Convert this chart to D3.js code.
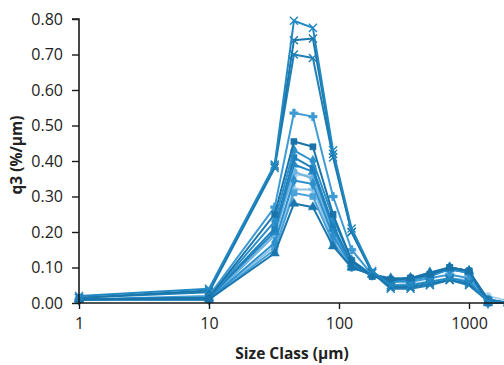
<!DOCTYPE html>
<html>
<head>
<meta charset="utf-8">
<script src="https://cdn.jsdelivr.net/npm/d3@7"></script>
<style>
  html, body { margin: 0; padding: 0; background: #fff; }
  svg { display: block; }
  text { font-family: "Open Sans", Lato, sans-serif; fill: #222; }
</style>
</head>
<body>
<svg id="chart" width="504" height="365"></svg>
<script>
// Size classes (µm)
const sizeClasses = [1, 10, 32, 45, 63, 90, 125, 180, 250, 355, 500, 710, 1000, 1400, 2000];

// q3 density (%/µm) per sample
const sampleA1 = [0.020, 0.040, 0.390, 0.795, 0.775, 0.430, 0.210, 0.090, 0.050, 0.050, 0.060, 0.070, 0.060, 0.005, 0.000];
const sampleA2 = [0.015, 0.035, 0.385, 0.740, 0.745, 0.420, 0.200, 0.085, 0.045, 0.045, 0.055, 0.065, 0.055, 0.005, 0.000];
const sampleA3 = [0.015, 0.030, 0.380, 0.700, 0.690, 0.410, 0.200, 0.085, 0.040, 0.040, 0.050, 0.065, 0.050, 0.005, 0.000];
const sampleA4 = [0.010, 0.020, 0.270, 0.535, 0.525, 0.300, 0.150, 0.080, 0.060, 0.060, 0.070, 0.080, 0.070, 0.010, 0.000];
const sampleB1 = [0.010, 0.015, 0.250, 0.455, 0.440, 0.250, 0.120, 0.075, 0.065, 0.070, 0.080, 0.100, 0.090, 0.010, 0.000];
const sampleB2 = [0.010, 0.015, 0.230, 0.430, 0.400, 0.240, 0.120, 0.080, 0.060, 0.065, 0.075, 0.095, 0.085, 0.005, 0.000];
const sampleB3 = [0.010, 0.015, 0.210, 0.410, 0.380, 0.220, 0.110, 0.075, 0.065, 0.070, 0.080, 0.100, 0.090, 0.000, 0.000];
const sampleB4 = [0.010, 0.015, 0.200, 0.390, 0.370, 0.210, 0.110, 0.080, 0.060, 0.065, 0.080, 0.095, 0.085, 0.005, 0.000];
const sampleB5 = [0.010, 0.010, 0.190, 0.370, 0.350, 0.200, 0.110, 0.080, 0.065, 0.070, 0.080, 0.095, 0.090, 0.010, 0.000];
const sampleB6 = [0.010, 0.010, 0.170, 0.345, 0.335, 0.190, 0.105, 0.080, 0.065, 0.070, 0.085, 0.100, 0.090, 0.000, 0.000];
const sampleB7 = [0.010, 0.010, 0.160, 0.320, 0.320, 0.180, 0.100, 0.080, 0.065, 0.070, 0.080, 0.095, 0.085, 0.010, 0.000];
const sampleB8 = [0.010, 0.010, 0.150, 0.310, 0.300, 0.170, 0.100, 0.080, 0.065, 0.070, 0.080, 0.095, 0.090, 0.005, 0.000];
const sampleB9 = [0.010, 0.010, 0.140, 0.280, 0.270, 0.160, 0.100, 0.080, 0.070, 0.070, 0.085, 0.100, 0.090, 0.000, 0.000];
const sampleB10 = [0.010, 0.010, 0.150, 0.360, 0.360, 0.210, 0.120, 0.080, 0.050, 0.055, 0.060, 0.070, 0.065, 0.020, 0.005];

const xTickValues = [1, 10, 100, 1000];
const yTickValues = [0, 0.1, 0.2, 0.3, 0.4, 0.5, 0.6, 0.7, 0.8];

// Series drawn light first, dark last
const series = [
  { name: "B10", values: sampleB10, color: "#a8d2ee", symbol: d3.symbolCircle },
  { name: "B7",  values: sampleB7,  color: "#8cc3e8", symbol: d3.symbolCross },
  { name: "B5",  values: sampleB5,  color: "#6fb3e0", symbol: d3.symbolCircle },
  { name: "A4",  values: sampleA4,  color: "#3d9ad4", symbol: d3.symbolCross },
  { name: "B8",  values: sampleB8,  color: "#4ba2d8", symbol: d3.symbolSquare },
  { name: "B6",  values: sampleB6,  color: "#2d90cc", symbol: d3.symbolDiamond },
  { name: "B4",  values: sampleB4,  color: "#2587c4", symbol: d3.symbolTriangle },
  { name: "B3",  values: sampleB3,  color: "#1f80bc", symbol: d3.symbolSquare },
  { name: "B2",  values: sampleB2,  color: "#2a8fca", symbol: d3.symbolDiamond },
  { name: "B9",  values: sampleB9,  color: "#1b76ae", symbol: d3.symbolTriangle },
  { name: "B1",  values: sampleB1,  color: "#1a74aa", symbol: d3.symbolSquare },
  { name: "A3",  values: sampleA3,  color: "#1f7fb6", symbol: d3.symbolX },
  { name: "A2",  values: sampleA2,  color: "#1a76ab", symbol: d3.symbolX },
  { name: "A1",  values: sampleA1,  color: "#2288c2", symbol: d3.symbolX }
];

const svg = d3.select("#chart");
const plotLeft = 79, plotTop = 19, plotBottom = 303;

const x = d3.scaleLog().domain([1, 2000]).range([plotLeft, plotLeft + 130 * Math.log10(2000)]);
const y = d3.scaleLinear().domain([0, 0.8]).range([plotBottom, plotTop]);

// Lines and markers
const line = d3.line()
  .x((d, i) => x(sizeClasses[i]))
  .y(d => y(d));

const plot = svg.append("g");
series.forEach(s => {
  plot.append("path")
    .datum(s.values)
    .attr("fill", "none")
    .attr("stroke", s.color)
    .attr("stroke-width", 2)
    .attr("stroke-linejoin", "round")
    .attr("d", line);
  const isStroke = s.symbol === d3.symbolX;
  plot.append("g").selectAll("path")
    .data(s.values)
    .join("path")
    .attr("transform", (d, i) => `translate(${x(sizeClasses[i])},${y(d)})`)
    .attr("d", d3.symbol().type(s.symbol).size(isStroke ? 44 : 38))
    .attr("fill", isStroke ? "none" : s.color)
    .attr("stroke", s.color)
    .attr("stroke-width", isStroke ? 1.4 : 0.5);
});

// Axes
const yAxis = svg.append("g")
  .attr("transform", `translate(${plotLeft},0)`)
  .call(d3.axisLeft(y).tickValues(yTickValues).tickFormat(d3.format(".2f")).tickSize(7).tickPadding(9));
const xAxis = svg.append("g")
  .attr("transform", `translate(0,${plotBottom})`)
  .call(d3.axisBottom(x).tickValues(xTickValues).tickFormat(d3.format("d")).tickSize(6).tickPadding(9));

[yAxis, xAxis].forEach(g => {
  g.select(".domain").attr("stroke", "#1a1a1a").attr("stroke-width", 1.6);
  g.selectAll(".tick line").attr("stroke", "#1a1a1a").attr("stroke-width", 1.4);
  g.selectAll(".tick text").style("font-size", "16px").style("font-family", "'Open Sans', Lato, sans-serif").attr("fill", "#222");
});
yAxis.select(".domain").attr("d", `M-7,${plotTop}H0V${plotBottom}`);
xAxis.select(".domain").attr("d", `M${plotLeft},0H504`);

// Axis titles
svg.append("text")
  .attr("x", 292).attr("y", 359)
  .attr("text-anchor", "middle")
  .style("font-size", "15.5px").style("font-weight", "bold")
  .text("Size Class (μm)");
svg.append("text")
  .attr("transform", "translate(22,155) rotate(-90)")
  .attr("text-anchor", "middle")
  .style("font-size", "15.5px").style("font-weight", "bold")
  .text("q3 (%/μm)");
</script>
</body>
</html>
